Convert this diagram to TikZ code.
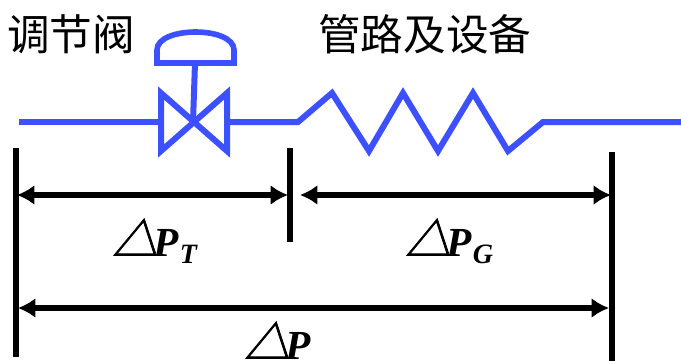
\documentclass[tikz,border=0pt]{standalone}
\usepackage{fontspec}
\usetikzlibrary{arrows.meta}
\setmainfont{Liberation Serif}
\newfontfamily\cjk{Noto Sans CJK SC}
\newfontfamily\tri[FakeSlant=0.25,FakeBold=1.5]{Noto Sans CJK SC}
\newcommand{\dP}[1]{{\tri\fontsize{34}{34}\selectfont △}\kern-3pt{\bfseries\itshape\fontsize{31}{31}\selectfont P}\ifx&#1&\else\kern0.8pt\raisebox{-5.5pt}{\bfseries\itshape\fontsize{21}{21}\selectfont #1}\fi}
\tikzset{
  pipe/.style={draw={rgb,255:red,60;green,80;blue,255},line width=4.5pt,line join=miter},
  bar/.style={draw=black,line width=4.5pt},
  dimboth/.style={draw=black,line width=4.5pt,{Latex[length=13pt,width=15pt]}-{Latex[length=13pt,width=15pt]}},
  title/.style={font=\cjk\fontsize{32}{32}\selectfont,anchor=west,inner sep=0pt},
  lbl/.style={anchor=base west,inner sep=0pt}
}
\begin{document}
\begin{tikzpicture}[x=0.75pt,y=-0.75pt]
\useasboundingbox (0,0) rectangle (681,361);
\node[title] (t1) at (7,34) {调节阀};
\node[title] (t2) at (318,34) {管路及设备};
% pipe
\coordinate (pl) at (19,122);
\coordinate (vl) at (161,122);
\coordinate (vc) at (193,122);
\coordinate (vr) at (227,122);
\coordinate (zs) at (298,122);
\coordinate (ze) at (543,122);
\coordinate (pr) at (681,122);
\draw[pipe] (pl) -- (vl);
\draw[pipe] (vr) -- (zs) -- (332,93) -- (369,151) -- (403,93) -- (438,151) -- (473,93) -- (508,151) -- (ze) -- (pr);
\draw[pipe] (161,93) -- (161,151) -- (227,93) -- (227,151) -- cycle;
\draw[pipe] (195,63) -- (vc);
\draw[pipe,line width=4.2pt] (157,63) -- (234,63) -- (234,50) .. controls (234,26) and (157,26) .. (157,50) -- cycle;
% bars
\coordinate (a1) at (16,148); \coordinate (a2) at (16,357);
\coordinate (b1) at (289.5,148); \coordinate (b2) at (289.5,242);
\coordinate (c1) at (612,152); \coordinate (c2) at (612,361);
\draw[bar] (a1) -- (a2);
\draw[bar] (b1) -- (b2);
\draw[bar] (c1) -- (c2);
\draw[dimboth] (17,195) -- (288,195);
\draw[dimboth] (300,195) -- (611,195);
\draw[dimboth] (18,308) -- (609,308);
\node[lbl] (l1) at (112,256) {\dP{T}};
\node[lbl] (l2) at (405,256) {\dP{G}};
\node[lbl] (l3) at (244,359) {\dP{}};
\end{tikzpicture}
\end{document}
